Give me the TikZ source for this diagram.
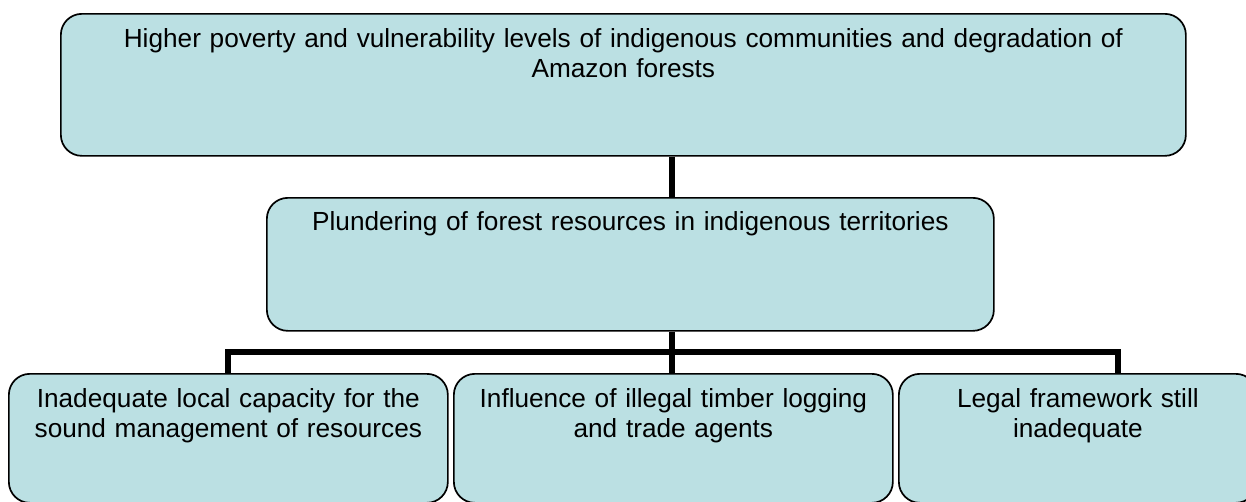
\documentclass[tikz,border=0pt]{standalone}
\usepackage{fontspec}
\setmainfont{Liberation Sans}
\usetikzlibrary{calc}
\definecolor{boxfill}{RGB}{187,224,227}
\tikzset{
  box/.style={draw=black, fill=boxfill, rounded corners=21pt, line width=1.7pt,
    inner sep=0pt, anchor=north west},
  conn/.style={draw=black, line width=5.5pt},
  txt/.style={font=\fontsize{26.2}{30.3}\selectfont, align=center, inner sep=0pt,
    anchor=base, text width=#1},
  txt/.default=400pt
}
\begin{document}
\begin{tikzpicture}[x=1pt,y=-1pt]
\useasboundingbox (0,0) rectangle (1246,501);
\begin{scope}
\clip (0,0) rectangle (1246,501);
% coordinates for connectors
\coordinate (bus) at (672,352);
\coordinate (busL) at (228,352);
\coordinate (busR) at (1118,352);
% boxes
\node[box, minimum width=1125pt, minimum height=142pt] (top) at (60,13) {};
\node[box, minimum width=727pt, minimum height=133pt] (mid) at (266,197) {};
\node[box, minimum width=439pt, minimum height=129pt] (b1) at (8,373) {};
\node[box, minimum width=439pt, minimum height=129pt] (b2) at (453,373) {};
\node[box, minimum width=358pt, minimum height=129pt] (b3) at (898,373) {};
% connectors
\draw[conn] (top.south -| bus) -- (mid.north -| bus);
\draw[conn] (mid.south -| bus) -- (b2.north -| bus);
\draw[conn] (b1.north -| busL) -- (busL) -- (busR) -- (b3.north -| busR);
% texts
\node[txt=1100pt] (ttop) at ($(top.north)+(0,34)$) {Higher poverty and vulnerability levels of indigenous communities and degradation of\\Amazon forests};
\node[txt=720pt] (tmid) at ($(mid.north)+(0,33)$) {Plundering of forest resources in indigenous territories};
\node[txt=430pt] (tb1) at ($(b1.north)+(0,34)$) {Inadequate local capacity for the\\sound management of resources};
\node[txt=430pt] (tb2) at ($(b2.north)+(0,34)$) {Influence of illegal timber logging\\and trade agents};
\node[txt=350pt] (tb3) at ($(b3.north)+(0,34)$) {Legal framework still\\inadequate};
\end{scope}
\end{tikzpicture}
\end{document}
